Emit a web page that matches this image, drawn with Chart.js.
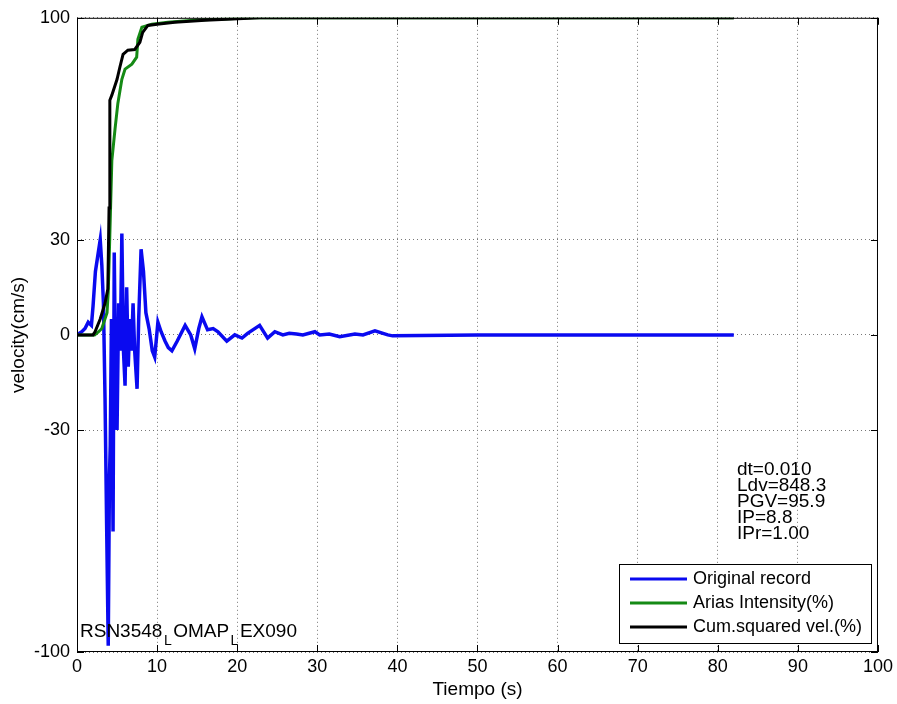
<!DOCTYPE html>
<html>
<head>
<meta charset="utf-8">
<script src="https://cdn.jsdelivr.net/npm/chart.js@4.4.0/dist/chart.umd.min.js"></script>
<style>
    html, body { margin: 0; padding: 0; background: #fff; }
    #wrap { width: 897px; height: 704px; }
</style>
</head>
<body>
<div id="wrap"><canvas id="grafico"></canvas></div>
<script>
// Original record (velocity, cm/s)
const tiempoRegistro = [0, 0.6, 1.0, 1.4, 1.8, 2.0, 2.3, 2.6, 2.9, 3.1, 3.3, 3.5, 3.7, 3.9, 4.05, 4.15, 4.3, 4.5, 4.65, 4.85, 5.0,
    5.2, 5.4, 5.6, 5.8, 6.0, 6.2, 6.4, 6.6, 6.8, 7.0, 7.2, 7.5, 7.7, 8.0, 8.3, 8.6, 9.0, 9.4, 9.7, 10.1,
    10.5, 11.0, 11.4, 11.85, 12.5, 13.5, 14.2, 14.7, 15.2, 15.6, 16.3, 17.0, 17.6, 18.7, 19.7, 20.6, 21.3, 22.8, 23.8, 24.7,
    25.7, 26.5, 27.4, 28.2, 29.7, 30.3, 31.5, 32.8, 34.7, 35.7, 37.2, 38.8, 39.4, 50, 60, 70, 82];
const velocidad = [0, 1, 2, 4, 3, 9, 20, 25, 30, 22, 10, -20, -60, -98, -45, -35, 5, -62, 26, -20, -30,
    10, -5, 32, -5, -16, 15, -10, 5, -5, 10, -5, -17, 5, 27, 20, 7, 2, -5, -7, 4,
    1, -2, -4, -5, -2, 3, 0, -4.4, 2, 5.7, 1.6, 2, 1, -2, 0, -1, 0.5, 3, -1, 1,
    0, 0.5, 0.3, 0, 1, 0, 0.3, -0.6, 0.3, 0, 1.3, 0, -0.3, 0, 0, 0, 0];

// Arias intensity (%)
const tiempoArias = [0, 2.2, 2.7, 3.1, 3.75, 3.9, 4.1, 4.35, 4.75, 5.1, 5.6, 6.0, 6.85, 7.45, 7.6, 8.1, 9.35, 11.35, 15, 22, 82];
const arias = [0, 0, 1, 2, 7, 13.5, 31.5, 55, 65, 73, 80.6, 83.8, 85.4, 87.6, 93.2, 97, 98, 98.6, 99.3, 100, 100];

// Cumulative squared velocity (%)
const tiempoCum = [0, 2.0, 2.25, 2.9, 3.5, 3.85, 4.0, 4.1, 4.35, 5.0, 5.35, 5.75, 6.35, 7.2, 7.85, 8.2, 8.85, 10, 12.2, 16, 22.8, 82];
const cumVel = [0, 0, 1, 5, 10, 14.5, 40, 74, 75.6, 80.6, 84.4, 88.5, 89.8, 90, 92.3, 95.4, 97.6, 98, 98.6, 99.2, 100, 100];

const ticksY = [-100, -30, 0, 30, 100];
const ticksX = [0, 10, 20, 30, 40, 50, 60, 70, 80, 90, 100];
const etiquetas = ['Original record', 'Arias Intensity(%)', 'Cum.squared vel.(%)'];
const infoTexto = ['dt=0.010', 'Ldv=848.3', 'PGV=95.9', 'IP=8.8', 'IPr=1.00'];

const fonte = '"Liberation Sans", Arial, sans-serif';

function pares(xs, ys) {
    return xs.map((x, i) => ({ x: x, y: ys[i] }));
}

const extras = {
    id: 'extras',
    afterDraw(chart) {
        const ctx = chart.ctx;
        const a = chart.chartArea;
        const sx = chart.scales.x, sy = chart.scales.y;
        ctx.save();
        // caixa dos eixos
        ctx.strokeStyle = '#000';
        ctx.lineWidth = 1;
        ctx.setLineDash([]);
        ctx.strokeRect(a.left + 0.5, a.top + 0.5, a.right - a.left - 1, a.bottom - a.top - 1);
        // marcas internas
        ctx.beginPath();
        ticksX.forEach(v => {
            const px = Math.round(sx.getPixelForValue(v)) + 0.5;
            ctx.moveTo(px, a.bottom); ctx.lineTo(px, a.bottom - 7);
            ctx.moveTo(px, a.top); ctx.lineTo(px, a.top + 7);
        });
        ticksY.forEach(v => {
            const py = Math.round(sy.getPixelForValue(v)) + 0.5;
            ctx.moveTo(a.left, py); ctx.lineTo(a.left + 7, py);
            ctx.moveTo(a.right, py); ctx.lineTo(a.right - 7, py);
        });
        ctx.stroke();

        // nome do registro com subscritos
        ctx.fillStyle = '#000';
        ctx.textBaseline = 'alphabetic';
        ctx.textAlign = 'left';
        const partes = [['RSN3548', false], ['L', true], ['OMAP', false], ['L', true], ['EX090', false]];
        let x = 80;
        partes.forEach(p => {
            ctx.font = (p[1] ? '14px ' : '19px ') + fonte;
            ctx.fillText(p[0], x, p[1] ? 645 : 637);
            x += ctx.measureText(p[0]).width + 1.5;
        });

        // dados do registro
        ctx.font = '19px ' + fonte;
        ctx.textBaseline = 'middle';
        infoTexto.forEach((t, i) => ctx.fillText(t, 737, 470 + i * 16));

        // legenda
        ctx.font = '18px ' + fonte;
        ctx.fillStyle = '#fff';
        ctx.fillRect(619, 564, 252, 79);
        ctx.strokeStyle = '#000';
        ctx.lineWidth = 1;
        ctx.strokeRect(619.5, 564.5, 252, 79);
        const linhasY = [579, 603, 627];
        chart.data.datasets.forEach((ds, i) => {
            ctx.strokeStyle = ds.borderColor;
            ctx.lineWidth = 3;
            ctx.beginPath();
            ctx.moveTo(630, linhasY[i]);
            ctx.lineTo(687, linhasY[i]);
            ctx.stroke();
            ctx.fillStyle = '#000';
            ctx.fillText(ds.label, 693, linhasY[i]);
        });
        ctx.restore();
    }
};

const ctx = document.getElementById('grafico').getContext('2d');
const myChart = new Chart(ctx, {
    type: 'line',
    data: {
        datasets: [{
            label: etiquetas[0],
            data: pares(tiempoRegistro, velocidad),
            borderColor: '#0a0af0',
            borderWidth: 3.5,
            pointRadius: 0,
            order: 2
        }, {
            label: etiquetas[1],
            data: pares(tiempoArias, arias),
            borderColor: '#158a15',
            borderWidth: 3,
            pointRadius: 0,
            order: 1
        }, {
            label: etiquetas[2],
            data: pares(tiempoCum, cumVel),
            borderColor: '#000000',
            borderWidth: 3,
            pointRadius: 0,
            order: 0
        }]
    },
    options: {
        responsive: true,
        maintainAspectRatio: false,
        animation: false,
        layout: {
            padding: { top: 17, right: 18, left: 0, bottom: 0 }
        },
        plugins: {
            legend: { display: false },
            tooltip: { enabled: false }
        },
        scales: {
            x: {
                type: 'linear',
                min: 0,
                max: 100,
                afterBuildTicks: (scale) => { scale.ticks = ticksX.map(v => ({ value: v })); },
                afterFit: (scale) => { scale.height = 52; },
                ticks: {
                    color: '#000',
                    font: { family: fonte, size: 18 },
                    padding: 4,
                    maxRotation: 0
                },
                grid: { color: '#777', drawTicks: false },
                border: { display: false, dash: [1, 3] },
                title: {
                    display: true,
                    text: 'Tiempo (s)',
                    color: '#000',
                    font: { family: fonte, size: 19 },
                    padding: { top: 0, bottom: 3 }
                }
            },
            y: {
                type: 'linear',
                min: -100,
                max: 100,
                afterBuildTicks: (scale) => { scale.ticks = ticksY.map(v => ({ value: v })); },
                afterFit: (scale) => { scale.width = 77; },
                ticks: {
                    color: '#000',
                    font: { family: fonte, size: 18 },
                    padding: 7
                },
                grid: { color: '#777', drawTicks: false },
                border: { display: false, dash: [1, 3] },
                title: {
                    display: true,
                    text: 'velocity(cm/s)',
                    color: '#000',
                    font: { family: fonte, size: 19 },
                    padding: { top: 7, bottom: 0 }
                }
            }
        }
    },
    plugins: [extras]
});
</script>
</body>
</html>
